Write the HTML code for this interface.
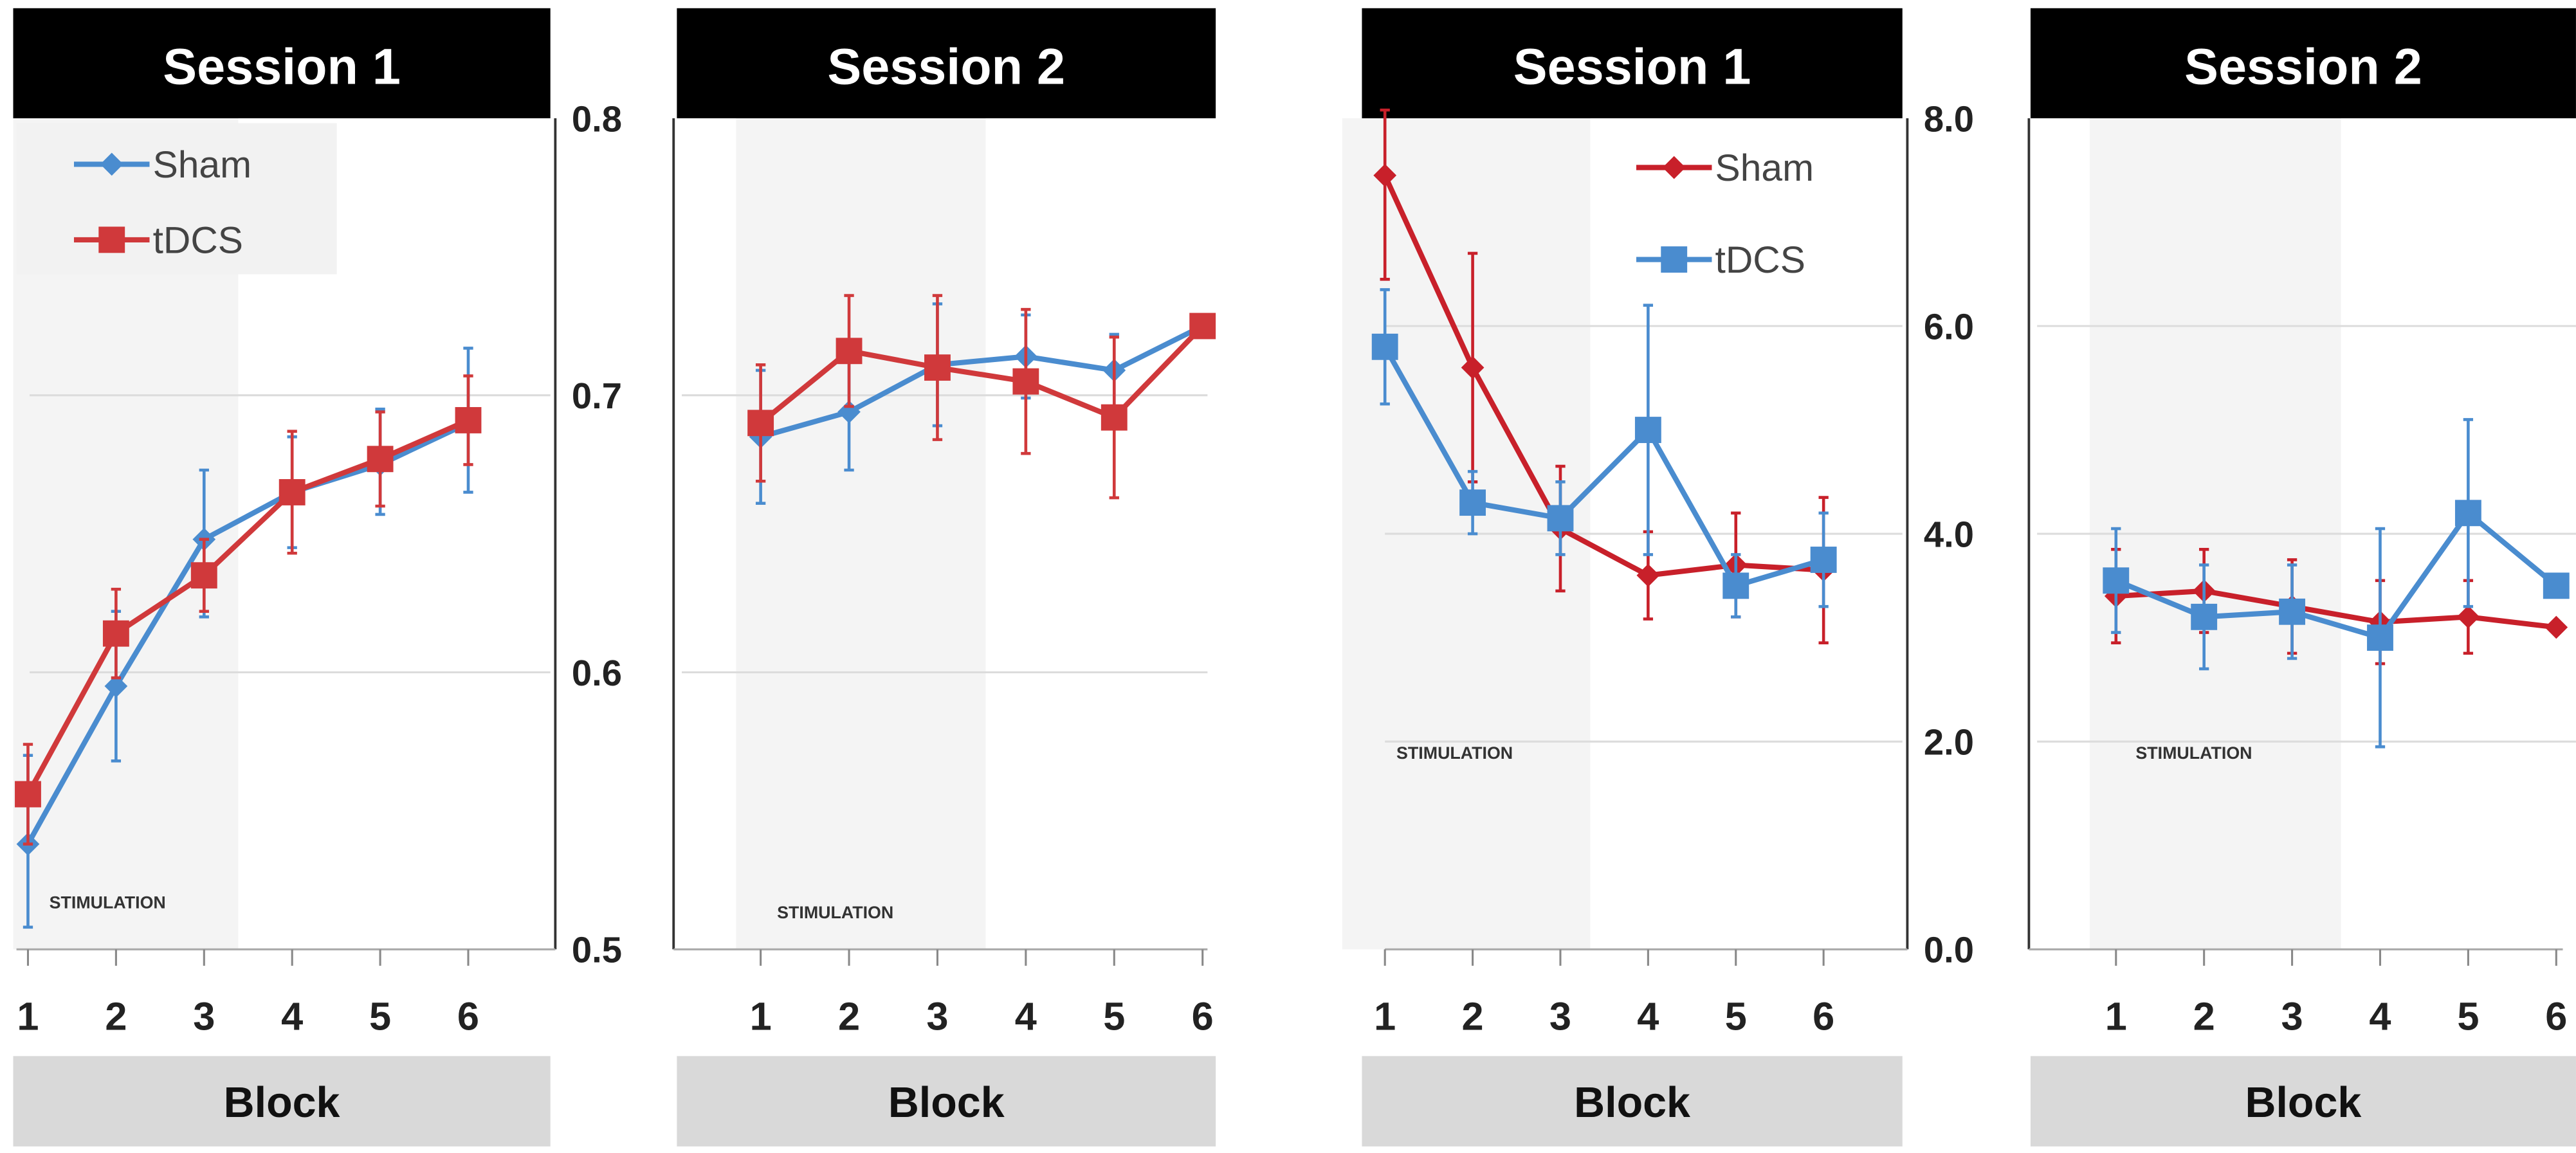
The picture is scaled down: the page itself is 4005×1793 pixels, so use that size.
<!DOCTYPE html>
<html><head><meta charset="utf-8"><style>
html,body{margin:0;padding:0;background:#fff;}
svg{display:block;}
text{font-family:"Liberation Sans",sans-serif;}
</style></head><body>
<svg id="c" width="4005" height="1793" viewBox="0 0 1568 702" xmlns="http://www.w3.org/2000/svg"></svg>
<script>
const blocks = [1,2,3,4,5,6];
const accTicks = ["0.5","0.6","0.7","0.8"];
const accTickVals = [0.5,0.6,0.7,0.8];
const rtTicks = ["0.0","2.0","4.0","6.0","8.0"];
const rtTickVals = [0,2,4,6,8];
const p1Sham = [0.538,0.595,0.648,0.665,0.675,0.690];
const p1ShamLo = [0.508,0.568,0.620,0.645,0.657,0.665];
const p1ShamHi = [0.570,0.622,0.673,0.685,0.695,0.717];
const p1Tdcs = [0.556,0.614,0.635,0.665,0.677,0.691];
const p1TdcsErr = [0.018,0.016,0.013,0.022,0.017,0.016];
const p2Sham = [0.685,0.694,0.711,0.714,0.709,0.725];
const p2ShamErr = [0.024,0.021,0.022,0.015,0.013,0];
const p2Tdcs = [0.690,0.716,0.710,0.705,0.692,0.725];
const p2TdcsErr = [0.021,0.020,0.026,0.026,0.029,0];
const p3Sham = [7.45,5.6,4.05,3.6,3.7,3.65];
const p3ShamErr = [1.0,1.1,0.6,0.42,0.5,0.7];
const p3Tdcs = [5.8,4.3,4.15,5.0,3.5,3.75];
const p3TdcsErr = [0.55,0.3,0.35,1.2,0.3,0.45];
const p4Sham = [3.4,3.45,3.3,3.15,3.2,3.1];
const p4ShamErr = [0.45,0.4,0.45,0.4,0.35,0];
const p4Tdcs = [3.55,3.2,3.25,3.0,4.2,3.5];
const p4TdcsErr = [0.5,0.5,0.45,1.05,0.9,0];

const BLUE="#4a8ccf", RED="#d0393b", RED2="#c8202a";
const svg=document.getElementById('c');
const NS="http://www.w3.org/2000/svg";
function mk(tag,attrs,parent){const e=document.createElementNS(NS,tag);for(const k in attrs)e.setAttribute(k,attrs[k]);(parent||svg).appendChild(e);return e;}
function txt(s,attrs,parent){const e=mk('text',attrs,parent);e.textContent=s;return e;}

function panel(cfg){
  const g=mk('g',{});
  
  
  const yTop=72,yBot=578;
  const sy=v=>yBot-(v-cfg.ymin)/(cfg.ymax-cfg.ymin)*(yBot-yTop);
  const sx=b=>cfg.x1+(b-1)*(cfg.x6-cfg.x1)/5;
  const sh=mk('rect',{x:cfg.shadeX0,y:yTop,width:cfg.shadeX1-cfg.shadeX0,height:yBot-yTop,fill:"#f4f4f4"},g);
  
  cfg.grid.forEach(v=>{const l=mk('line',{x1:cfg.gx0,x2:cfg.gx1,y1:sy(v),y2:sy(v),stroke:"#dcdcdc","stroke-width":1.2},g);
    });
  const hd=mk('rect',{x:cfg.hx0,y:5,width:cfg.hx1-cfg.hx0,height:67,fill:"#000"},g);
  
  const ht=txt(cfg.title,{x:(cfg.hx0+cfg.hx1)/2,y:51,fill:"#fff","font-size":31,"font-weight":"bold","text-anchor":"middle"},g);
  
  const ax=mk('line',{x1:cfg.axisX,x2:cfg.axisX,y1:yTop,y2:yBot,stroke:"#333","stroke-width":1.5},g);
  
  const bx=mk('line',{x1:cfg.bx0,x2:cfg.bx1,y1:yBot,y2:yBot,stroke:"#aaa","stroke-width":1.2},g);
  
  blocks.forEach(b=>{
    const t=mk('line',{x1:sx(b),x2:sx(b),y1:yBot,y2:yBot+10,stroke:"#888","stroke-width":1.2},g);
    
    const l=txt(String(b),{x:sx(b),y:627,"font-size":24,"font-weight":"bold","text-anchor":"middle",fill:"#222"},g);
    
  });
  const bb=mk('rect',{x:cfg.hx0,y:643,width:cfg.hx1-cfg.hx0,height:55,fill:"#d9d9d9"},g);
  
  const bt=txt("Block",{x:(cfg.hx0+cfg.hx1)/2,y:680,"font-size":26,"font-weight":"bold","text-anchor":"middle",fill:"#111"},g);
  
  const st=txt("STIMULATION",{x:cfg.stimX,y:cfg.stimY,"font-size":10.5,"font-weight":"bold",fill:"#333"},g);
  
  if(cfg.ticks){cfg.tickVals.forEach((v,i)=>{
    const l=txt(cfg.ticks[i],{x:cfg.axisX+10,y:sy(v)+8,"font-size":22,"font-weight":"bold",fill:"#222"},g);
    });}
  cfg.series.forEach(s=>{
    const sg=mk('g',{},g);
    
    s.vals.forEach((v,i)=>{
      const lo=s.lo?s.lo[i]:v-s.err[i], hi=s.hi?s.hi[i]:v+s.err[i];
      if(hi-lo<=0)return;
      const yh=Math.max(sy(hi),yTop-5);
      const e=mk('path',{d:`M${sx(blocks[i])},${sy(lo)}V${yh}M${sx(blocks[i])-3},${sy(lo)}h6M${sx(blocks[i])-3},${yh}h6`,stroke:s.color,"stroke-width":1.8,fill:"none"},sg);
      
    });
    const ln=mk('polyline',{points:s.vals.map((v,i)=>sx(blocks[i])+","+sy(v)).join(" "),stroke:s.color,"stroke-width":3.2,fill:"none"},sg);
    
    s.vals.forEach((v,i)=>{
      const x=sx(blocks[i]),y=sy(v);let m;
      if(s.marker==='sq')m=mk('rect',{x:x-8,y:y-8,width:16,height:16,fill:s.color},sg);
      else m=mk('path',{d:`M${x},${y-7}L${x+7},${y}L${x},${y+7}L${x-7},${y}Z`,fill:s.color},sg);
      
    });
  });
  if(cfg.legend){
    const L=cfg.legend;
    if(L.bg){const r=mk('rect',{x:L.bg[0],y:L.bg[1],width:L.bg[2],height:L.bg[3],fill:"#f2f2f2"},g);
      }
    L.items.forEach((it,k)=>{
      const y=L.y0+k*L.dy, lg=mk('g',{},g);
      
      mk('line',{x1:L.x,x2:L.x+46,y1:y,y2:y,stroke:it.color,"stroke-width":3.2},lg);
      const cx=L.x+23;
      if(it.marker==='sq')mk('rect',{x:cx-8,y:y-8,width:16,height:16,fill:it.color},lg);
      else mk('path',{d:`M${cx},${y-7}L${cx+7},${y}L${cx},${y+7}L${cx-7},${y}Z`,fill:it.color},lg);
      txt(it.label,{x:L.x+48,y:y+8,"font-size":23,fill:"#444"},lg);
    });
  }
}

panel({name:'accuracy-session-1',title:'Session 1',hx0:8,hx1:335,ymin:0.5,ymax:0.8,x1:17,x6:285,
  shadeX0:8,shadeX1:145,grid:[0.6,0.7],gx0:18,gx1:335,axisX:338,bx0:10,bx1:338,
  stimX:30,stimY:553,ticks:accTicks,tickVals:accTickVals,
  series:[{name:'sham-series',vals:p1Sham,lo:p1ShamLo,hi:p1ShamHi,color:BLUE,marker:'dia'},
          {name:'tdcs-series',vals:p1Tdcs,err:p1TdcsErr,color:RED,marker:'sq'}],
  legend:{bg:[10,75,195,92],x:45,y0:100,dy:46,items:[{label:'Sham',color:BLUE,marker:'dia'},{label:'tDCS',color:RED,marker:'sq'}]}});
panel({name:'accuracy-session-2',title:'Session 2',hx0:412,hx1:740,ymin:0.5,ymax:0.8,x1:463,x6:732,
  shadeX0:448,shadeX1:600,grid:[0.6,0.7],gx0:415,gx1:735,axisX:410,bx0:410,bx1:735,
  stimX:473,stimY:559,
  series:[{name:'sham-series',vals:p2Sham,err:p2ShamErr,color:BLUE,marker:'dia'},
          {name:'tdcs-series',vals:p2Tdcs,err:p2TdcsErr,color:RED,marker:'sq'}]});
panel({name:'rt-session-1',title:'Session 1',hx0:829,hx1:1158,ymin:0,ymax:8,x1:843,x6:1110,
  shadeX0:817,shadeX1:968,grid:[2,4,6],gx0:843,gx1:1158,axisX:1161,bx0:843,bx1:1161,
  stimX:850,stimY:462,ticks:rtTicks,tickVals:rtTickVals,
  series:[{name:'sham-series',vals:p3Sham,err:p3ShamErr,color:RED2,marker:'dia'},
          {name:'tdcs-series',vals:p3Tdcs,err:p3TdcsErr,color:BLUE,marker:'sq'}],
  legend:{x:996,y0:102,dy:56,items:[{label:'Sham',color:RED2,marker:'dia'},{label:'tDCS',color:BLUE,marker:'sq'}]}});
panel({name:'rt-session-2',title:'Session 2',hx0:1236,hx1:1568,ymin:0,ymax:8,x1:1288,x6:1556,
  shadeX0:1272,shadeX1:1425,grid:[2,4,6],gx0:1240,gx1:1568,axisX:1235,bx0:1235,bx1:1560,
  stimX:1300,stimY:462,
  series:[{name:'sham-series',vals:p4Sham,err:p4ShamErr,color:RED2,marker:'dia'},
          {name:'tdcs-series',vals:p4Tdcs,err:p4TdcsErr,color:BLUE,marker:'sq'}]});
</script>
</body></html>
